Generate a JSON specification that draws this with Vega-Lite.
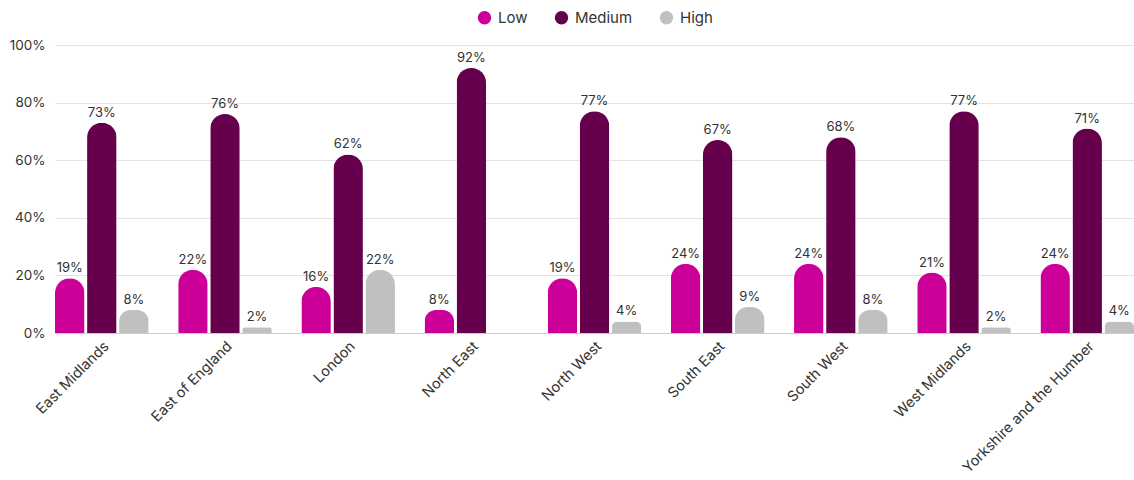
{
  "$schema": "https://vega.github.io/schema/vega-lite/v6.json",
  "autosize": "none",
  "width": 1079,
  "height": 288,
  "padding": {"left": 55, "top": 45, "right": 0, "bottom": 147},
  "background": "white",
  "config": {
    "font": "Inter",
    "view": {"stroke": null},
    "axis": {"labelFont": "Inter", "labelColor": "#333333", "labelFontSize": 13}
  },
  "data": {
    "values": [
      {"region": "East Midlands", "level": "Low", "value": 0.19},
      {"region": "East Midlands", "level": "Medium", "value": 0.73},
      {"region": "East Midlands", "level": "High", "value": 0.08},
      {"region": "East of England", "level": "Low", "value": 0.22},
      {"region": "East of England", "level": "Medium", "value": 0.76},
      {"region": "East of England", "level": "High", "value": 0.02},
      {"region": "London", "level": "Low", "value": 0.16},
      {"region": "London", "level": "Medium", "value": 0.62},
      {"region": "London", "level": "High", "value": 0.22},
      {"region": "North East", "level": "Low", "value": 0.08},
      {"region": "North East", "level": "Medium", "value": 0.92},
      {"region": "North West", "level": "Low", "value": 0.19},
      {"region": "North West", "level": "Medium", "value": 0.77},
      {"region": "North West", "level": "High", "value": 0.04},
      {"region": "South East", "level": "Low", "value": 0.24},
      {"region": "South East", "level": "Medium", "value": 0.67},
      {"region": "South East", "level": "High", "value": 0.09},
      {"region": "South West", "level": "Low", "value": 0.24},
      {"region": "South West", "level": "Medium", "value": 0.68},
      {"region": "South West", "level": "High", "value": 0.08},
      {"region": "West Midlands", "level": "Low", "value": 0.21},
      {"region": "West Midlands", "level": "Medium", "value": 0.77},
      {"region": "West Midlands", "level": "High", "value": 0.02},
      {"region": "Yorkshire and the Humber", "level": "Low", "value": 0.24},
      {"region": "Yorkshire and the Humber", "level": "Medium", "value": 0.71},
      {"region": "Yorkshire and the Humber", "level": "High", "value": 0.04}
    ]
  },
  "encoding": {
    "x": {
      "field": "region",
      "type": "nominal",
      "sort": null,
      "scale": {"paddingInner": 0.24, "paddingOuter": 0},
      "axis": {
        "title": null,
        "labelAngle": -45,
        "labelAlign": "right",
        "labelBaseline": "top",
        "labelPadding": 6,
        "ticks": false,
        "domain": true,
        "domainColor": "#cccccc",
        "labelFontSize": 14.5
      }
    },
    "xOffset": {
      "field": "level",
      "type": "nominal",
      "sort": ["Low", "Medium", "High"],
      "scale": {"domain": ["Low", "Medium", "High"], "paddingInner": 0.08}
    },
    "y": {
      "field": "value",
      "type": "quantitative",
      "scale": {"domain": [0, 1]},
      "axis": {
        "title": null,
        "values": [0, 0.2, 0.4, 0.6, 0.8, 1],
        "format": ".0%",
        "domain": false,
        "ticks": false,
        "labelPadding": 10,
        "gridColor": "#e2e2e2",
        "labelFontSize": 13.5
      }
    }
  },
  "layer": [
    {
      "mark": {"type": "bar", "cornerRadiusTopLeft": 15, "cornerRadiusTopRight": 15},
      "encoding": {
        "color": {
          "field": "level",
          "type": "nominal",
          "sort": ["Low", "Medium", "High"],
          "scale": {"domain": ["Low", "Medium", "High"], "range": ["#cc0099", "#66004c", "#c0c0c0"]},
          "legend": {
            "title": null,
            "orient": "none",
            "direction": "horizontal",
            "legendX": 422,
            "legendY": -35,
            "symbolType": "circle",
            "symbolSize": 180,
            "symbolStrokeWidth": 0,
            "labelFontSize": 15,
            "labelColor": "#333333",
            "labelFont": "Inter",
            "columnPadding": 26,
            "labelOffset": 6
          }
        }
      }
    },
    {
      "mark": {"type": "text", "baseline": "bottom", "dy": -3, "fontSize": 13, "color": "#333333"},
      "encoding": {
        "text": {"field": "value", "type": "quantitative", "format": ".0%"},
        "detail": {"field": "level"}
      }
    }
  ]
}
